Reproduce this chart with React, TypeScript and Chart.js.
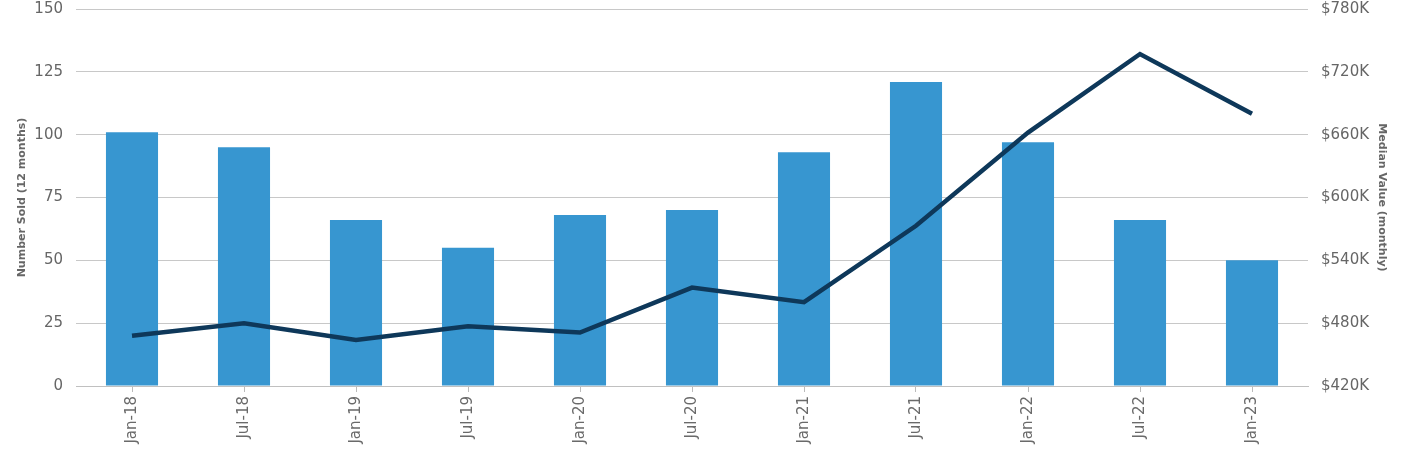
import React, { useEffect, useRef } from "react";
import { Chart, registerables } from "chart.js";

Chart.register(...registerables);

const categories = ["Jan-18", "Jul-18", "Jan-19", "Jul-19", "Jan-20", "Jul-20", "Jan-21", "Jul-21", "Jan-22", "Jul-22", "Jan-23"];
const numberSold = [101, 95, 66, 55, 68, 70, 93, 121, 97, 66, 50];
const medianValue = [468000, 480000, 464000, 477000, 471000, 514000, 500000, 573000, 662000, 737000, 680000];
const leftTicks = [0, 25, 50, 75, 100, 125, 150];
const rightTicks = [420000, 480000, 540000, 600000, 660000, 720000, 780000];

export default function App() {
  const ref = useRef<HTMLCanvasElement>(null);
  useEffect(() => {
    const font = "'DejaVu Sans', sans-serif";
    const chart = new Chart(ref.current!, {
      data: {
        labels: categories,
        datasets: [
          {
            type: "line",
            label: "Median Value (monthly)",
            data: medianValue,
            yAxisID: "y1",
            borderColor: "#0e385a",
            backgroundColor: "#0e385a",
            borderWidth: 4.5,
            pointRadius: 0,
            tension: 0,
            order: 0,
          },
          {
            type: "bar",
            label: "Number Sold (12 months)",
            data: numberSold,
            yAxisID: "y",
            backgroundColor: "#3796d0",
            barPercentage: 0.93,
            categoryPercentage: 0.5,
            order: 1,
          },
        ],
      },
      options: {
        animation: false,
        responsive: false,
        maintainAspectRatio: false,
        layout: { padding: { top: 0, left: 0, right: 0, bottom: 0 } },
        plugins: { legend: { display: false }, tooltip: { enabled: false } },
        scales: {
          x: {
            grid: { display: true, drawOnChartArea: false, drawTicks: true, tickLength: 6, color: "#bbbbbb", offset: false },
            border: { display: true, color: "#c0c0c0" },
            ticks: { color: "#6a6a6a", font: { family: font, size: 15 }, maxRotation: 90, minRotation: 90, padding: 4 },
            afterFit: (s: any) => { s.height = 73; s.paddingLeft = 0; s.paddingRight = 0; },
          },
          y: {
            position: "left",
            min: 0,
            max: 150,
            afterBuildTicks: (s: any) => { s.ticks = leftTicks.map((v) => ({ value: v })); },
            grid: { color: "#c8c8c8", drawTicks: false },
            border: { display: false },
            ticks: { color: "#666666", font: { family: font, size: 15 }, padding: 13 },
            title: { display: true, text: "Number Sold (12 months)", color: "#666666", font: { family: font, size: 11, weight: "bold" }, padding: { top: 16, bottom: 0 } },
            afterFit: (s: any) => { s.width = 76; s.paddingTop = 9; s.paddingBottom = 0; },
          },
          y1: {
            position: "right",
            min: 420000,
            max: 780000,
            afterBuildTicks: (s: any) => { s.ticks = rightTicks.map((v) => ({ value: v })); },
            grid: { display: false },
            border: { display: false },
            ticks: {
              color: "#666666",
              font: { family: font, size: 15 },
              padding: 5,
              callback: (v: any) => "$" + Math.round(Number(v) / 1000) + "K",
            },
            title: { display: true, text: "Median Value (monthly)", color: "#666666", font: { family: font, size: 11, weight: "bold" }, padding: { top: 16, bottom: 0 } },
            afterFit: (s: any) => { s.width = 96; s.paddingTop = 9; s.paddingBottom = 0; },
          },
        },
      },
    } as any);
    return () => chart.destroy();
  }, []);
  return (
    <div style={{ position: "fixed", left: 0, top: 0, width: 1404, height: 459, background: "#fff" }}>
      <canvas ref={ref} width={1404} height={459} style={{ width: 1404, height: 459 }} />
    </div>
  );
}
